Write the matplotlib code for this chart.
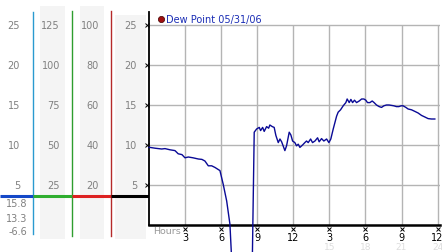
import matplotlib
matplotlib.use("Agg")
import matplotlib.pyplot as plt

# dew point readings, hours since midnight
hours = [0.0, 0.08, 0.5, 1.06, 1.33, 1.75, 2.16, 2.43, 2.74, 2.99, 3.27, 3.66,
         4.1, 4.4, 4.65, 4.93, 5.21, 5.48, 5.9, 6.17, 6.46, 6.73, 6.95,
         7.5, 8.2, 8.57,
         8.75, 8.95, 9.17, 9.28, 9.45, 9.58, 9.78, 9.95, 10.05, 10.25, 10.41,
         10.55, 10.75, 10.89, 11.03, 11.3, 11.44, 11.66, 11.8, 11.94, 12.13,
         12.27, 12.41, 12.55, 12.77, 12.96, 13.1, 13.24, 13.44, 13.6, 13.8,
         14.02, 14.15, 14.35, 14.54, 14.77, 14.96, 15.12, 15.32, 15.6, 15.73,
         15.93, 16.15, 16.37, 16.48, 16.65, 16.79, 16.93, 17.09, 17.26, 17.48,
         17.68, 17.87, 18.03, 18.17, 18.37, 18.56, 18.72, 18.92, 19.14, 19.34,
         19.53, 19.75, 19.97, 20.17, 20.36, 20.58, 20.78, 20.97, 21.13, 21.36,
         21.55, 21.83, 22.11, 22.38, 22.66, 22.94, 23.21, 23.49, 23.77]
dewpoint = [9.7, 9.7, 9.6, 9.5, 9.55, 9.4, 9.3, 8.9, 8.8, 8.4, 8.5, 8.4,
            8.25, 8.2, 8.0, 7.4, 7.4, 7.2, 6.8, 5.1, 3.0, 0.1, -6.6,
            -6.6, -6.6, -6.6,
            11.6, 12.0, 12.2, 11.8, 12.2, 11.7, 12.3, 12.1, 12.5, 12.3, 12.2,
            11.2, 10.3, 10.75, 10.4, 9.3, 9.9, 11.6, 11.25, 10.5, 10.3,
            9.9, 10.1, 9.7, 10.0, 10.3, 10.5, 10.3, 10.75, 10.3, 10.5,
            10.9, 10.4, 10.8, 10.5, 10.75, 10.3, 10.75, 12.0, 13.6, 14.1,
            14.4, 14.9, 15.3, 15.75, 15.3, 15.7, 15.3, 15.6, 15.3, 15.5,
            15.75, 15.75, 15.6, 15.3, 15.3, 15.5, 15.3, 15.0, 14.8, 14.7,
            14.9, 15.0, 15.0, 14.95, 14.9, 14.8, 14.8, 14.9, 14.9, 14.7,
            14.5, 14.4, 14.2, 14.0, 13.7, 13.5, 13.3, 13.25, 13.25]

y_ticks = [5, 10, 15, 20, 25]
x_ticks = [3, 6, 9, 12, 15, 18, 21, 24]
x_labels = ['3', '6', '9', '12', '3', '6', '9', '12']
x_labels_24 = ['15', '18', '21', '24']

# alternative unit columns on the left panel
col1 = ['5', '10', '15', '20', '25']
col2 = ['25', '50', '75', '100', '125']
col3 = ['20', '40', '60', '80', '100']
col4 = ['5', '10', '15', '20', '25']
stats = ['15.8', '13.3', '-6.6']

W, H = 442, 253
fig = plt.figure(figsize=(W / 100, H / 100), dpi=100)
fig.patch.set_facecolor('white')

y0 = 226      # pixel row of value 0
ppu = 8.0     # pixels per unit

# ---- left panel, x in pixels, y in data units ----
lax = fig.add_axes([0, 0, 149 / W, 1])
lax.set_xlim(0, 149)
lax.set_ylim(-(H - y0) / ppu, y0 / ppu)
lax.axis('off')

def py(p):
    return (y0 - p) / ppu

for x0, x1, top in [(40, 65, 7), (80, 104, 7), (115, 146, 16)]:
    lax.fill_between([x0, x1], py(240), py(top), color='#f4f4f4', lw=0)

lax.plot([33, 33], [py(13), py(235)], color='#2a9ad0', lw=1)
lax.plot([72, 72], [py(12), py(237)], color='#2f9e2f', lw=1)
lax.plot([111, 111], [py(12), py(237)], color='#b52a2a', lw=1)

hy = py(197)
lax.plot([0, 33], [hy, hy], color='#1448c8', lw=2.2, solid_capstyle='butt')
lax.plot([33, 72], [hy, hy], color='#2fae2f', lw=2.2, solid_capstyle='butt')
lax.plot([72, 111], [hy, hy], color='#dd2222', lw=2.2, solid_capstyle='butt')
lax.plot([111, 149], [hy, hy], color='black', lw=2.2, solid_capstyle='butt')

tc = '#808080'
for v, a, b, c, d in zip(y_ticks, col1, col2, col3, col4):
    lax.text(20, v, a, ha='right', va='center', fontsize=7, color=tc)
    lax.text(60, v, b, ha='right', va='center', fontsize=7, color=tc)
    lax.text(99, v, c, ha='right', va='center', fontsize=7, color=tc)
    lax.text(137, v, d, ha='right', va='center', fontsize=7, color=tc)
for s, p in zip(stats, [204, 219, 232]):
    lax.text(27, py(p), s, ha='right', va='center', fontsize=7, color=tc)

# ---- main chart ----
ax = fig.add_axes([149 / W, (H - y0) / H, 291 / W, 213 / H])
ax.set_xlim(0, 24.2)
ax.set_ylim(0, 213 / ppu)
ax.set_facecolor('none')
for s in ['top', 'right']:
    ax.spines[s].set_visible(False)
ax.spines['left'].set_linewidth(1.3)
ax.spines['bottom'].set_linewidth(1.8)
ax.set_xticks([])
ax.set_yticks([])

# grid: verticals stop at the top gridline
ax.vlines(x_ticks, 0, max(y_ticks), color='#b4b4b4', lw=1, zorder=1)
ax.hlines(y_ticks, 0, 24.2, color='#b4b4b4', lw=1, zorder=1)

ax.plot(hours, dewpoint, color='#0a0a96', lw=1, clip_on=False, zorder=3)

# little x marks next to the ticks
ax.plot([-0.15] * len(y_ticks), y_ticks, 'x', color='black', ms=2.5, mew=0.7,
        clip_on=False)
ax.plot(x_ticks, [-0.45] * len(x_ticks), 'x', color='black', ms=2.5, mew=0.7,
        clip_on=False)
for xt, lab in zip(x_ticks, x_labels):
    ax.text(xt, -1.45, lab, ha='center', va='center', fontsize=7, color='black')
for xt, lab in zip(x_ticks[4:], x_labels_24):
    ax.text(xt, -2.65, lab, ha='center', va='center', fontsize=6.5, color='#dddddd')
ax.text(0.35, -0.7, 'Hours', ha='left', va='center', fontsize=6.8, color='#999999')

# legend
ax.plot([1.0], [25.8], 'o', color='#a01010', ms=4.5, mec='#400000', mew=0.5,
        clip_on=False)
ax.text(1.4, 25.8, 'Dew Point 05/31/06', ha='left', va='center', fontsize=7,
        color='#1a2db5')

fig.savefig('out.png', dpi=100)
